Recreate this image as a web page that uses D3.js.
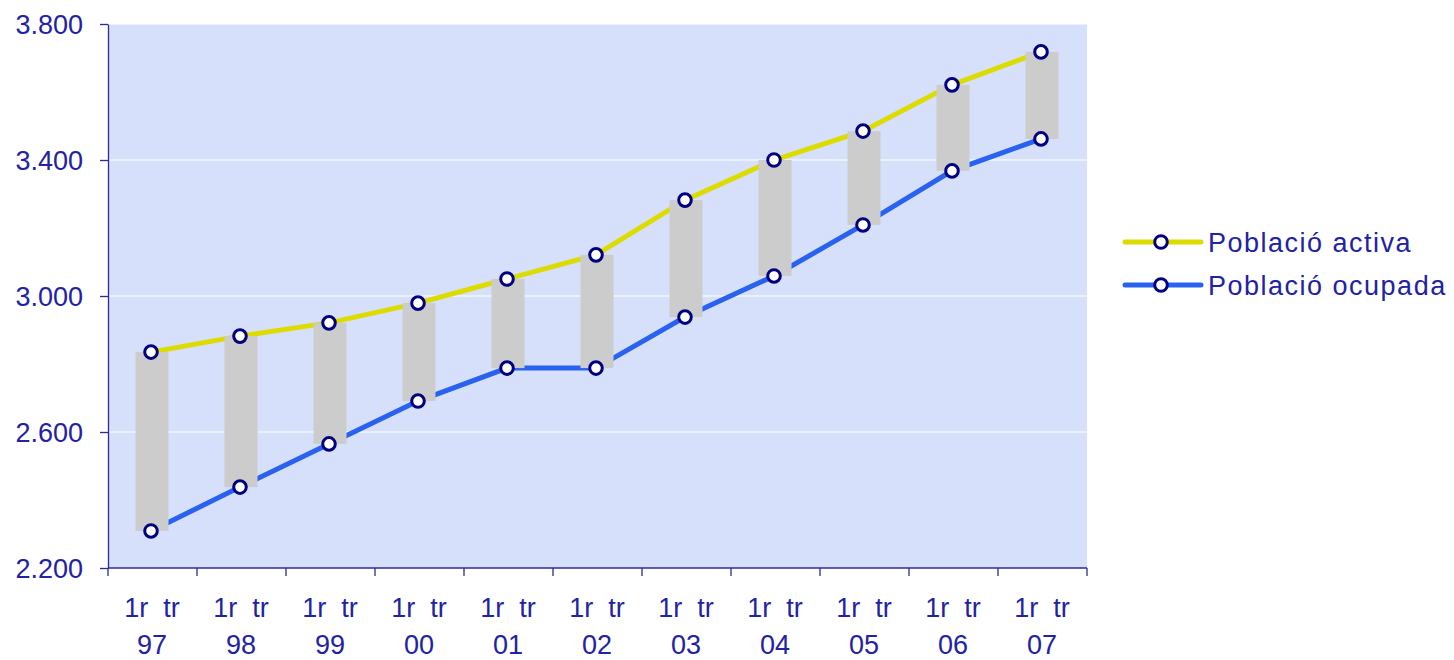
<!DOCTYPE html>
<html>
<head>
<meta charset="utf-8">
<script src="https://cdn.jsdelivr.net/npm/d3@7"></script>
<style>
  body { margin: 0; background: #fff; }
  svg text { font-family: "Liberation Sans", Arial, sans-serif; fill: #2222a4; }
  .axis .domain, .axis line { stroke: #2a2a9a; stroke-width: 1.3; }
</style>
</head>
<body>
<svg id="chart" width="1454" height="660"></svg>
<script>
const years = ["97", "98", "99", "00", "01", "02", "03", "04", "05", "06", "07"];
const activa = [2835, 2882, 2921, 2979, 3050, 3121, 3282, 3400, 3485, 3621, 3718];
const ocupada = [2309, 2438, 2565, 2691, 2788, 2788, 2938, 3059, 3209, 3368, 3462];
const yTicks = [2200, 2600, 3000, 3400, 3800];
const seriesNames = ["Població activa", "Població ocupada"];

const plot = { left: 108, right: 1087, top: 24, bottom: 568 };
const colors = { activa: "#dcdc00", ocupada: "#2a62f0", marker: "#000080", bar: "#cccccc" };

const svg = d3.select("#chart");

const x = d3.scaleBand().domain(years).range([plot.left, plot.right]);
const y = d3.scaleLinear().domain([2200, 3800]).range([plot.bottom, plot.top]);
const cx = d => x(d) + x.bandwidth() / 2 - 1.5;
const fmt = d => d3.format(",")(d).replace(",", ".");

// background
svg.append("rect")
    .attr("x", plot.left).attr("y", plot.top)
    .attr("width", plot.right - plot.left)
    .attr("height", plot.bottom - plot.top)
    .style("fill", "#d7e0fb");

// grid lines
svg.append("g")
    .selectAll("line")
    .data(yTicks.filter(d => d !== 2200))
    .join("line")
    .attr("x1", plot.left).attr("x2", plot.right)
    .attr("y1", d => y(d)).attr("y2", d => y(d))
    .style("stroke", "#ffffff").style("stroke-width", 1.2);

// lines
const line = d3.line().x((d, i) => cx(years[i])).y(d => y(d));
svg.append("path").attr("d", line(activa))
    .style("fill", "none").style("stroke", colors.activa).style("stroke-width", 5);
svg.append("path").attr("d", line(ocupada))
    .style("fill", "none").style("stroke", colors.ocupada).style("stroke-width", 5);

// high-low bars
const barW = 33;
svg.append("g")
    .selectAll("rect")
    .data(years)
    .join("rect")
    .attr("x", d => cx(d) - barW / 2 + 1)
    .attr("y", (d, i) => y(activa[i]))
    .attr("width", barW)
    .attr("height", (d, i) => y(ocupada[i]) - y(activa[i]))
    .style("fill", colors.bar);

// markers
[activa, ocupada].forEach(vals => {
    svg.append("g")
        .selectAll("circle")
        .data(vals)
        .join("circle")
        .attr("cx", (d, i) => cx(years[i]))
        .attr("cy", d => y(d))
        .attr("r", 6.3)
        .style("fill", "#fff")
        .style("stroke", colors.marker)
        .style("stroke-width", 3);
});

// y axis
svg.append("g")
    .attr("class", "axis y")
    .attr("transform", `translate(${plot.left},0)`)
    .call(d3.axisLeft(y).tickValues(yTicks).tickFormat(fmt).tickSize(8).tickPadding(17).tickSizeOuter(0))
    .call(g => g.selectAll("text").style("font-size", "27px").attr("dy", "0.36em"));

// x axis
const xAxis = svg.append("g")
    .attr("class", "axis x")
    .attr("transform", `translate(0,${plot.bottom})`);
xAxis.append("line")
    .attr("x1", plot.left).attr("x2", plot.right)
    .style("stroke", "#2a2a9a").style("stroke-width", 1.3);
xAxis.selectAll(".tick")
    .data(years.concat(["end"]))
    .join("line")
    .attr("x1", d => d === "end" ? plot.right : x(d))
    .attr("x2", d => d === "end" ? plot.right : x(d))
    .attr("y1", 0).attr("y2", 8)
    .style("stroke", "#2a2a9a").style("stroke-width", 1.3);
const lbl = xAxis.selectAll("text")
    .data(years)
    .join("text")
    .attr("text-anchor", "middle")
    .style("font-size", "27px");
lbl.append("tspan").attr("x", d => cx(d) + 1).attr("y", 49).text("1r  tr").style("white-space", "pre");
lbl.append("tspan").attr("x", d => cx(d) + 1).attr("y", 86).text(d => d);

// legend
const legend = svg.append("g").attr("transform", "translate(1125,242)");
[colors.activa, colors.ocupada].forEach((c, i) => {
    const g = legend.append("g").attr("transform", `translate(0,${i * 43})`);
    g.append("line").attr("x1", 0).attr("x2", 76).attr("y1", 0).attr("y2", 0)
        .style("stroke", c).style("stroke-width", 5).style("stroke-linecap", "round");
    g.append("circle").attr("cx", 36).attr("cy", 0).attr("r", 6.3)
        .style("fill", "#fff").style("stroke", colors.marker).style("stroke-width", 3);
    g.append("text").attr("x", 83).attr("y", 0).attr("dy", "0.36em")
        .style("font-size", "27px").style("letter-spacing", "1.5px")
        .text(seriesNames[i]);
});
</script>
</body>
</html>
